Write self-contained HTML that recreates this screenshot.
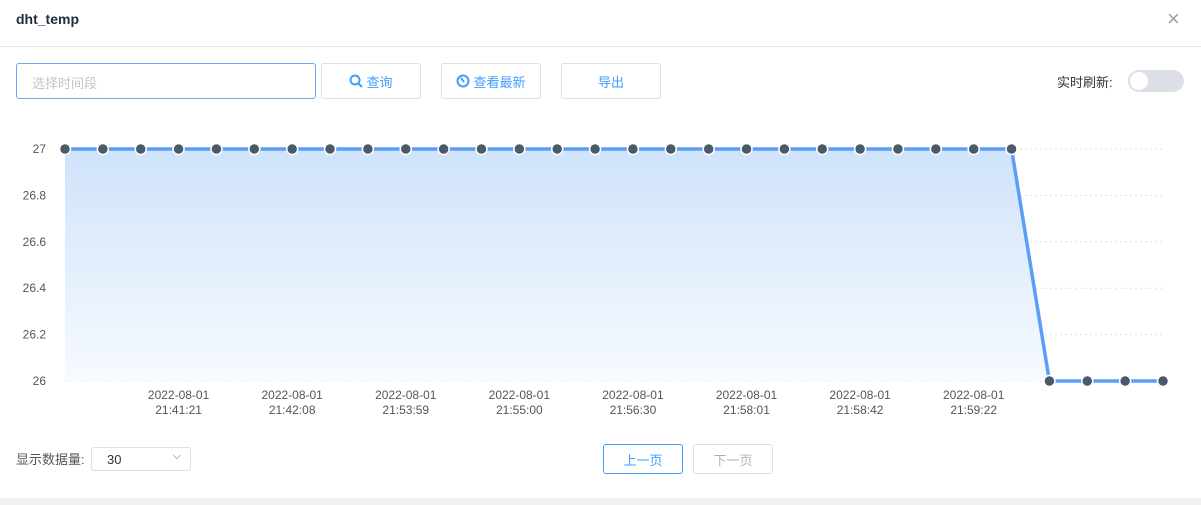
<!DOCTYPE html>
<html><head><meta charset="utf-8">
<style>
body{margin:0;width:1201px;height:505px;background:#fff;font-family:"Liberation Sans","Noto Sans CJK SC",sans-serif;position:relative;overflow:hidden}
.abs{position:absolute}
.btn{position:absolute;border:1px solid #dcdfe6;border-radius:3px;background:#fff;color:#409eff;font-size:13px;display:flex;align-items:center;justify-content:center;box-sizing:border-box}
</style></head><body>
<div class="abs" style="left:16px;top:11px;font-size:14px;font-weight:bold;color:#1f2d3d">dht_temp</div>
<div class="abs" style="left:1167px;top:8px;font-size:22px;line-height:22px;font-weight:300;color:#a0a3a8">×</div>
<div class="abs" style="left:0;top:46px;width:1201px;height:1px;background:#e8e8e8"></div>
<div class="abs" style="left:16px;top:63px;width:300px;height:36px;box-sizing:border-box;border:1px solid #6aa8f0;border-radius:3px;font-size:13px;color:#c0c4cc;padding:9px 15px">选择时间段</div>
<div class="btn" style="left:321px;top:63px;width:100px;height:36px">
<svg width="14" height="14" viewBox="0 0 14 14" style="margin-right:3px"><circle cx="6" cy="6" r="4.5" fill="none" stroke="#409eff" stroke-width="2"/><line x1="9.5" y1="9.5" x2="13" y2="13" stroke="#409eff" stroke-width="2"/></svg>查询</div>
<div class="btn" style="left:441px;top:63px;width:100px;height:36px">
<svg width="14" height="14" viewBox="0 0 14 14" style="margin-right:3px"><circle cx="7" cy="7" r="5.5" fill="none" stroke="#409eff" stroke-width="2"/><line x1="5" y1="4" x2="8" y2="8" stroke="#409eff" stroke-width="2"/></svg>查看最新</div>
<div class="btn" style="left:561px;top:63px;width:100px;height:36px">导出</div>
<div class="abs" style="left:1057px;top:72px;font-size:13px;color:#333">实时刷新:</div>
<div class="abs" style="left:1128px;top:70px;width:56px;height:22px;border-radius:11px;background:#dcdfe6">
<div style="position:absolute;left:2px;top:2px;width:18px;height:18px;border-radius:9px;background:#fff"></div></div>
<svg class="abs" style="left:0;top:120px" width="1201" height="310" id="chart">
<defs><linearGradient id="g" x1="0" y1="0" x2="0" y2="1"><stop offset="0" stop-color="#cfe3fb"/><stop offset="1" stop-color="#f7faff"/></linearGradient></defs>
</svg>
<div class="abs" style="left:16px;top:449px;font-size:13px;color:#555">显示数据量:</div>
<div class="abs" style="left:91px;top:447px;width:100px;height:24px;box-sizing:border-box;border:1px solid #dcdfe6;border-radius:3px;font-size:13px;color:#333;padding:4px 15px">30<span style="position:absolute;right:9px;top:2px;color:#666;font-size:11px">⌵</span></div>
<div class="btn" style="left:603px;top:444px;width:80px;height:30px;border-color:#409eff">上一页</div>
<div class="btn" style="left:693px;top:444px;width:80px;height:30px;color:#b0b3b8">下一页</div>
<div class="abs" style="left:0;top:498px;width:1201px;height:7px;background:#f0f0f0"></div>
<script>
const values=[27,27,27,27,27,27,27,27,27,27,27,27,27,27,27,27,27,27,27,27,27,27,27,27,27,27,26,26,26,26];
const yTicks=[26,26.2,26.4,26.6,26.8,27];
const xLabelIdx=[3,6,9,12,15,18,21,24];
const xLabels=["21:41:21","21:42:08","21:53:59","21:55:00","21:56:30","21:58:01","21:58:42","21:59:22"];
const dateLabel="2022-08-01";
const svg=document.getElementById('chart');const NS="http://www.w3.org/2000/svg";
const x0=65,x1=1163,yTop=29,yBot=261,vMin=26,vMax=27;
const X=i=>x0+(x1-x0)*i/(values.length-1);
const Y=v=>yBot-(v-vMin)/(vMax-vMin)*(yBot-yTop);
function mk(t,a){const e=document.createElementNS(NS,t);for(const k in a)e.setAttribute(k,a[k]);svg.appendChild(e);return e;}
yTicks.forEach(t=>{const l=mk('line',{x1:x0,x2:x1,y1:Y(t),y2:Y(t),stroke:'#e0e0e0','stroke-dasharray':'2,3'});

const tx=mk('text',{x:46,y:Y(t)+4,'text-anchor':'end','font-size':12,fill:'#555','font-family':'Liberation Sans'});tx.textContent=t;
});
let d='M'+X(0)+','+Y(values[0]);values.forEach((v,i)=>{if(i)d+=' L'+X(i)+','+Y(v);});
const area=mk('path',{d:d+' L'+X(values.length-1)+','+yBot+' L'+X(0)+','+yBot+' Z',fill:'url(#g)'});

const ln=mk('path',{d:d,fill:'none',stroke:'#5a9ef5','stroke-width':3.5});

values.forEach((v,i)=>{const c=mk('circle',{cx:X(i),cy:Y(v),r:5.5,fill:'#4a5a68',stroke:'#fff','stroke-width':1.5});
});
xLabelIdx.forEach((idx,k)=>{const t=mk('text',{x:X(idx),y:yBot+18,'text-anchor':'middle','font-size':12,fill:'#555','font-family':'Liberation Sans'});

const a=document.createElementNS(NS,'tspan');a.setAttribute('x',X(idx));a.textContent=dateLabel;t.appendChild(a);
const b=document.createElementNS(NS,'tspan');b.setAttribute('x',X(idx));b.setAttribute('dy',15);b.textContent=xLabels[k];t.appendChild(b);});
</script>
</body></html>
